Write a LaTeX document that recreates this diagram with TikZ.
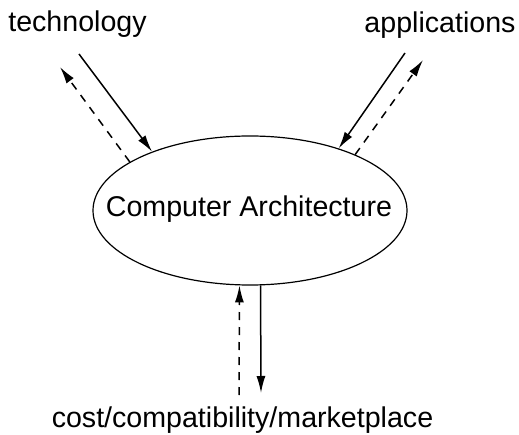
\documentclass[tikz,border=0pt]{standalone}
\usepackage{fontspec}
\setmainfont{Liberation Sans}
\usetikzlibrary{arrows.meta,shapes.geometric}

\tikzset{
    lbl/.style={font=\fontsize{28.6}{34}\selectfont, inner sep=0pt, anchor=base},
    flow/.style={line width=1.5pt, -{Latex[length=17pt,width=9pt]}},
    back/.style={flow, dash pattern=on 8pt off 7pt},
}

\begin{document}
\begin{tikzpicture}[x=1pt,y=1pt]
    \useasboundingbox (0,0) rectangle (519,434);

    % the central ellipse and its text
    \node[draw, ellipse, line width=1.2pt, minimum width=314pt, minimum height=149pt,
          inner sep=0pt] (arch) at (250,223.5) {};
    \node[lbl] (archtxt) at (249,217.3) {Computer Architecture};

    % the three labels
    \node[lbl] (tech) at (77.5,402) {technology};
    \node[lbl] (appl) at (440,401) {applications};
    \node[lbl] (cost) at (242.5,6.3) {cost/compatibility/marketplace};

    % free ends of the arrows, below/beside the labels
    \coordinate (techIn)  at (79,380);
    \coordinate (techOut) at (60,367);
    \coordinate (applIn)  at (405,381);
    \coordinate (applOut) at (423,374);
    \coordinate (costIn)  at (239,39);
    \coordinate (costOut) at (261,41);

    % technology
    \draw[flow] (techIn) -- (arch.149);
    \draw[back] (arch.158) -- (techOut);

    % applications
    \draw[flow] (applIn) -- (arch.35);
    \draw[back] (arch.28) -- (applOut);

    % cost/compatibility/marketplace
    \draw[back] (costIn) -- (arch.262);
    \draw[flow] (arch.278) -- (costOut);
\end{tikzpicture}
\end{document}
